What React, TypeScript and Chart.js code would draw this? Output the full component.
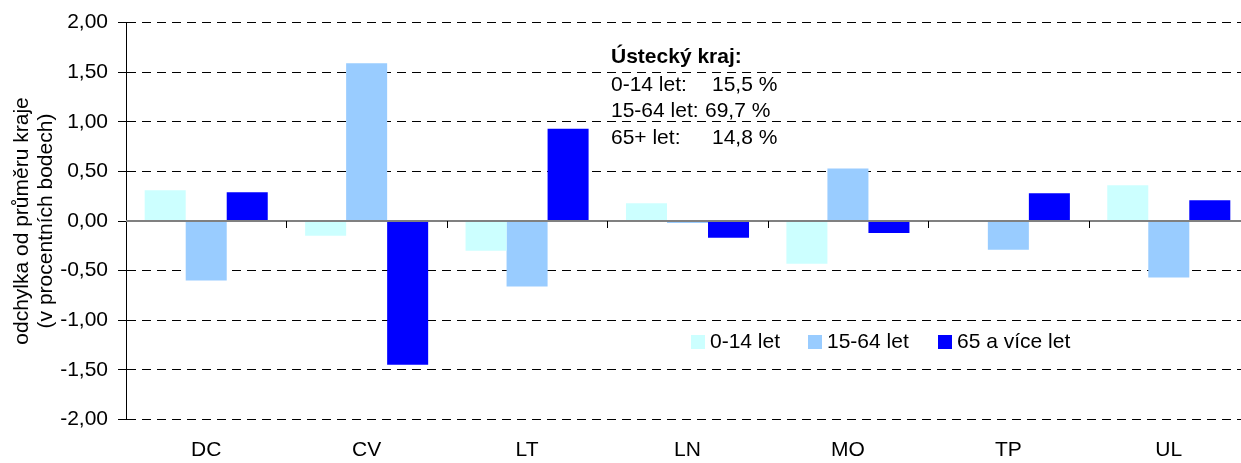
import React, { useEffect, useRef } from "react";
import { Chart, registerables } from "chart.js";

Chart.register(...registerables);

const categories = ["DC", "CV", "LT", "LN", "MO", "TP", "UL"];
const seriesNames = ["0-14 let", "15-64 let", "65 a více let"];
const values0_14 = [0.31, -0.15, -0.3, 0.18, -0.43, 0.01, 0.36];
const values15_64 = [-0.6, 1.59, -0.66, -0.02, 0.53, -0.29, -0.57];
const values65 = [0.29, -1.45, 0.93, -0.17, -0.12, 0.28, 0.21];
const seriesColors = ["#CCFFFF", "#99CCFF", "#0000FF"];
const yTitleLines = ["odchylka od průměru kraje", "(v procentních bodech)"];
const noteTitle = "Ústecký kraj:";
const noteLabels = ["0-14 let:", "15-64 let:", "65+ let:"];
const noteValues = ["15,5 %", "69,7 %", "14,8 %"];

const FONT = "'Liberation Sans', Arial, sans-serif";

const decorPlugin = {
  id: "decor",
  afterDatasetsDraw(chart: any) {
    const { ctx, chartArea, scales } = chart;
    const y = scales.y;
    const x = scales.x;
    const y0 = y.getPixelForValue(0);
    ctx.save();
    ctx.strokeStyle = "#808080";
    ctx.lineWidth = 2;
    ctx.beginPath();
    ctx.moveTo(chartArea.left, y0);
    ctx.lineTo(chartArea.right, y0);
    ctx.stroke();
    ctx.strokeStyle = "#000000";
    ctx.lineWidth = 1;
    const n = categories.length;
    for (let i = 1; i < n; i++) {
      const px = Math.round((x.getPixelForTick(i - 1) + x.getPixelForTick(i)) / 2) + 0.5;
      ctx.beginPath();
      ctx.moveTo(px, y0);
      ctx.lineTo(px, y0 + 7);
      ctx.stroke();
    }
    ctx.restore();
  },
  afterDraw(chart: any) {
    const { ctx, chartArea } = chart;
    ctx.save();
    ctx.fillStyle = "#000";
    ctx.font = `21px ${FONT}`;
    ctx.textAlign = "center";
    ctx.textBaseline = "middle";
    const cy = (chartArea.top + chartArea.bottom) / 2;
    const xs = [22, 46];
    yTitleLines.forEach((t, i) => {
      ctx.save();
      ctx.translate(xs[i], cy);
      ctx.rotate(-Math.PI / 2);
      ctx.fillText(t, 0, 0);
      ctx.restore();
    });
    ctx.textAlign = "left";
    ctx.font = `bold 21px ${FONT}`;
    ctx.fillText(noteTitle, 611, 57);
    ctx.font = `21px ${FONT}`;
    const ly = [85, 111, 138];
    noteLabels.forEach((l, i) => {
      ctx.fillText(l, 611, ly[i]);
      const vx = i === 1 ? Math.max(705, 611 + ctx.measureText(l + " ").width) : 712;
      ctx.fillText(noteValues[i], vx, ly[i]);
    });
    const boxX = [691, 808, 938];
    chart.data.datasets.forEach((ds: any, i: number) => {
      ctx.fillStyle = ds.backgroundColor;
      ctx.fillRect(boxX[i], 335, 14, 14);
      ctx.fillStyle = "#000";
      ctx.fillText(ds.label, boxX[i] + 19, 342);
    });
    ctx.restore();
  },
};

export default function App() {
  const ref = useRef<HTMLCanvasElement>(null);
  useEffect(() => {
    document.body.style.margin = "0";
    const chart = new Chart(ref.current as HTMLCanvasElement, {
      type: "bar",
      data: {
        labels: categories,
        datasets: [values0_14, values15_64, values65].map((d, i) => ({
          label: seriesNames[i],
          data: d,
          backgroundColor: seriesColors[i],
          borderWidth: 0,
          categoryPercentage: 0.767,
          barPercentage: 1,
        })),
      },
      options: {
        responsive: false,
        animation: false,
        layout: { padding: { top: 22.7, right: 0, left: 0, bottom: 0 } },
        plugins: {
          legend: { display: false },
          tooltip: { enabled: false },
        },
        scales: {
          x: {
            grid: { display: false },
            border: { display: false },
            ticks: {
              color: "#000",
              font: { family: FONT, size: 21 },
              padding: 10,
              maxRotation: 0,
            },
            afterFit: (s: any) => {
              s.height = 43.7;
            },
          },
          y: {
            min: -2,
            max: 2,
            grid: {
              color: "#000",
              lineWidth: 1,
              drawTicks: true,
              tickLength: 8,
              tickColor: "#000",
            },
            border: { display: true, color: "#000", width: 1, dash: [9, 6] },
            ticks: {
              stepSize: 0.5,
              color: "#000",
              font: { family: FONT, size: 21 },
              padding: 10,
              callback: (v: any) => Number(v).toFixed(2).replace(".", ","),
            },
            afterFit: (s: any) => {
              s.width = 126;
            },
          },
        },
      },
      plugins: [decorPlugin],
    });
    return () => chart.destroy();
  }, []);
  return (
    <div style={{ position: "fixed", left: 0, top: 0, width: 1241, height: 463, overflow: "hidden", background: "#fff" }}>
      <canvas ref={ref} width={1249} height={463} style={{ display: "block" }} />
    </div>
  );
}
